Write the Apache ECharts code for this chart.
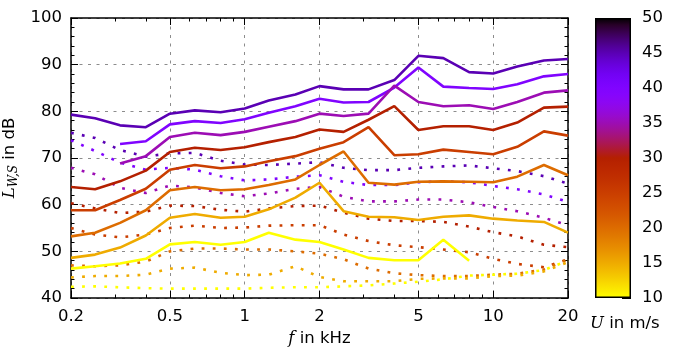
<!DOCTYPE html>
<html>
<head>
  <meta charset="UTF-8" />
  <title>L_W,S vs f</title>
  <script src="https://cdn.jsdelivr.net/npm/echarts@6/dist/echarts.min.js"></script>
  <style>
    html, body { margin: 0; background: #fff; }
    #chart { width: 681px; height: 352px; }
  </style>
</head>
<body>
  <div id="chart"></div>
  <script>
    // third-octave band centres in kHz
    const freqs = [0.2, 0.25, 0.315, 0.4, 0.5, 0.63, 0.8, 1, 1.25, 1.6, 2, 2.5, 3.15, 4, 5, 6.3, 8, 10, 12.5, 16, 20];
    const speeds = [45, 40, 35, 30, 25, 20, 15, 10];

    // solid lines, L_W,S in dB (null = no value)
    const solid45 = [79.3, 78.5, 77.0, 76.6, 79.5, 80.2, 79.8, 80.6, 82.3, 83.6, 85.4, 84.7, 84.7, 86.7, 91.9, 91.4, 88.4, 88.1, 89.6, 90.9, 91.2];
    const solid40 = [null, null, 73.0, 73.6, 77.2, 77.9, 77.5, 78.3, 79.7, 81.1, 82.7, 81.9, 82.0, 85.1, 89.4, 85.3, 85.0, 84.8, 85.8, 87.5, 88.0];
    const solid35 = [null, null, 68.8, 70.4, 74.5, 75.4, 74.9, 75.6, 76.7, 77.9, 79.5, 79.0, 79.5, 85.5, 82.0, 81.1, 81.3, 80.5, 82.0, 84.0, 84.5];
    const solid30 = [63.8, 63.3, 65.0, 67.3, 71.3, 72.2, 71.7, 72.3, 73.4, 74.5, 76.1, 75.6, 78.2, 81.1, 76.0, 76.8, 76.8, 76.0, 77.6, 80.8, 81.0];
    const solid25 = [58.8, 58.8, 61.0, 63.4, 67.5, 68.5, 67.8, 68.2, 69.3, 70.4, 72.0, 73.4, 76.6, 70.6, 70.8, 71.8, 71.3, 70.8, 72.4, 75.7, 74.8];
    const solid20 = [53.2, 54.0, 56.1, 58.8, 63.1, 63.8, 63.1, 63.3, 64.2, 65.4, 68.5, 71.4, 64.7, 64.3, 64.9, 65.0, 64.9, 64.8, 66.0, 68.5, 66.3];
    const solid15 = [48.6, 49.3, 50.8, 53.4, 57.2, 58.0, 57.2, 57.4, 59.0, 61.5, 64.7, 58.6, 57.4, 57.3, 56.7, 57.4, 57.7, 57.0, 56.6, 56.3, 54.0];
    const solid10 = [46.3, 46.8, 47.4, 48.4, 51.5, 52.0, 51.4, 52.0, 54.0, 52.5, 52.0, 50.4, 48.6, 48.1, 48.1, 52.5, 48.0, null, null, null, null];

    // dotted lines
    const dotted45 = [75.4, 74.3, 71.7, 70.3, 71.0, 71.1, 69.4, 68.6, 68.5, 68.8, 69.1, 67.9, 67.4, 67.4, 67.9, 68.2, 68.4, 67.8, 67.2, 66.1, 64.5];
    const dotted40 = [73.8, 71.5, 69.0, 67.5, 67.9, 67.5, 66.1, 65.2, 65.4, 66.0, 66.3, 64.9, 64.2, 64.2, 64.8, 65.0, 64.8, 64.0, 63.3, 62.2, 60.6];
    const dotted35 = [67.9, 66.5, 63.6, 62.5, 64.1, 63.7, 62.5, 61.8, 62.4, 63.4, 63.8, 61.7, 60.7, 60.7, 61.1, 61.1, 60.5, 59.5, 58.6, 57.2, 55.6];
    const dotted30 = [60.3, 59.2, 58.2, 58.5, 59.8, 59.7, 58.9, 58.5, 59.2, 59.7, 59.8, 58.3, 57.0, 56.5, 56.5, 56.3, 55.3, 54.1, 53.2, 51.4, 50.9];
    const dotted25 = [55.0, 53.6, 53.0, 53.6, 55.0, 55.5, 55.0, 55.1, 55.5, 55.6, 55.6, 53.6, 52.2, 51.3, 50.9, 50.4, 49.8, 48.4, 47.3, 46.6, 48.3];
    const dotted20 = [47.0, 46.8, 47.0, 47.8, 50.0, 50.6, 50.6, 50.4, 50.4, 50.0, 49.5, 48.3, 46.3, 45.3, 44.9, 44.7, 44.7, 45.0, 45.2, 46.1, 48.3];
    const dotted15 = [44.4, 44.7, 44.7, 45.0, 46.3, 46.5, 45.4, 44.9, 45.0, 46.8, 44.5, 43.6, 43.6, 43.6, 44.1, 44.2, 44.2, 44.7, 44.8, 45.7, 47.7];
    const dotted10 = [42.4, 42.5, 42.3, 42.1, 42.0, 42.0, 42.0, 42.0, 42.2, 42.3, 42.3, 42.5, 42.7, 43.1, 43.5, 44.0, 44.8, 45.0, 45.2, 46.0, 48.0];

    const solidLines = [solid45, solid40, solid35, solid30, solid25, solid20, solid15, solid10];
    const dottedLines = [dotted45, dotted40, dotted35, dotted30, dotted25, dotted20, dotted15, dotted10];

    const majorFreqTicks = [0.2, 0.5, 1, 2, 5, 10, 20];
    const minorFreqTicks = [0.3, 0.4, 0.6, 0.7, 0.8, 0.9, 3, 4, 6, 7, 8, 9];

    // matplotlib gnuplot colormap, reversed over U = 10..50
    function gnuplot(x) {
      const r = Math.sqrt(x), g = x * x * x, b = Math.max(0, Math.sin(2 * Math.PI * x));
      return 'rgb(' + Math.round(r * 255) + ',' + Math.round(g * 255) + ',' + Math.round(b * 255) + ')';
    }
    const speedColor = u => gnuplot((50 - u) / 40);

    const chart = echarts.init(document.getElementById('chart'), null, { renderer: 'canvas' });

    const FONT = 'DejaVu Sans';
    const FS = 16.5;
    const black = '#000';
    const gridLine = { show: true, lineStyle: { color: '#8c8c8c', width: 1, type: [3, 5.5] } };

    const series = [];
    speeds.forEach((u, i) => {
      series.push({
        type: 'line', name: 'dot' + u, symbol: 'none', silent: true,
        data: freqs.map((f, k) => [f, dottedLines[i][k] == null ? '-' : dottedLines[i][k]]),
        lineStyle: { color: speedColor(u), width: 2.6, type: [2.8, 8.3], cap: 'butt' },
        z: 3
      });
    });
    speeds.forEach((u, i) => {
      series.push({
        type: 'line', name: 'U' + u, symbol: 'none', silent: true,
        data: freqs.map((f, k) => [f, solidLines[i][k] == null ? '-' : solidLines[i][k]]),
        lineStyle: { color: speedColor(u), width: 2.6 },
        z: 4
      });
    });

    // colour bar: transparent base up to 10, gradient from 10 to 50
    const stops = [];
    for (let k = 0; k <= 40; k++) stops.push({ offset: k / 40, color: gnuplot(k / 40) });
    series.push({
      type: 'bar', xAxisIndex: 4, yAxisIndex: 2, stack: 'cbar', silent: true,
      data: [10], barWidth: '100%', itemStyle: { color: 'rgba(0,0,0,0)' }
    });
    series.push({
      type: 'bar', xAxisIndex: 4, yAxisIndex: 2, stack: 'cbar', silent: true,
      data: [40], barWidth: '100%',
      itemStyle: { color: new echarts.graphic.LinearGradient(0, 0, 0, 1, stops), borderColor: black, borderWidth: 1.5 }
    });

    const freqAxis = { type: 'log', logBase: 10, min: 0.2, max: 20, gridIndex: 0 };
    const mathRich = {
      i: { fontFamily: 'DejaVu Serif', fontStyle: 'italic', fontSize: FS, lineHeight: 20, color: black },
      s: { fontFamily: 'DejaVu Serif', fontStyle: 'italic', fontSize: 12, verticalAlign: 'bottom', color: black },
      t: { fontFamily: FONT, fontSize: FS, lineHeight: 20, color: black }
    };

    chart.setOption({
      animation: false,
      backgroundColor: '#fff',
      textStyle: { fontFamily: FONT },
      grid: [
        { left: 71, top: 18, width: 497, height: 280, outerBoundsMode: 'none' },
        { left: 595, top: 18, width: 36, height: 280, outerBoundsMode: 'none' }
      ],
      xAxis: [
        Object.assign({}, freqAxis, {
          position: 'bottom',
          name: '{i|f}{t| in kHz}', nameLocation: 'middle', nameGap: 31,
          nameTextStyle: { rich: mathRich },
          axisLine: { show: true, onZero: false, lineStyle: { color: black, width: 1.5 } },
          axisTick: { show: true, inside: true, length: 7, customValues: majorFreqTicks, lineStyle: { color: black, width: 1 } },
          axisLabel: { customValues: majorFreqTicks, color: black, fontSize: FS, margin: 10, formatter: v => String(+(+v).toPrecision(3)) },
          splitLine: gridLine
        }),
        Object.assign({}, freqAxis, {
          position: 'bottom',
          axisLine: { show: false },
          axisTick: { show: true, inside: true, length: 3.5, customValues: minorFreqTicks, lineStyle: { color: black, width: 1 } },
          axisLabel: { show: false }, splitLine: { show: false }
        }),
        Object.assign({}, freqAxis, {
          position: 'top',
          axisLine: { show: true, onZero: false, lineStyle: { color: black, width: 1.5 } },
          axisTick: { show: true, inside: true, length: 7, customValues: majorFreqTicks, lineStyle: { color: black, width: 1 } },
          axisLabel: { show: false }, splitLine: { show: false }
        }),
        Object.assign({}, freqAxis, {
          position: 'top',
          axisLine: { show: false },
          axisTick: { show: true, inside: true, length: 3.5, customValues: minorFreqTicks, lineStyle: { color: black, width: 1 } },
          axisLabel: { show: false }, splitLine: { show: false }
        }),
        { type: 'category', gridIndex: 1, data: [''], show: false, boundaryGap: true }
      ],
      yAxis: [
        {
          type: 'value', gridIndex: 0, min: 40, max: 100, interval: 10, position: 'left',
          name: '{i|L}{s|W,S}{t| in dB}', nameLocation: 'middle', nameGap: 35, nameRotate: 90,
          nameTextStyle: { rich: mathRich },
          axisLine: { show: true, lineStyle: { color: black, width: 1.5 } },
          axisTick: { show: true, inside: true, length: 7, lineStyle: { color: black } },
          minorTick: { show: true, splitNumber: 5, length: 3.5, lineStyle: { color: black } },
          axisLabel: { color: black, fontSize: FS, margin: 9 },
          splitLine: gridLine
        },
        {
          type: 'value', gridIndex: 0, min: 40, max: 100, interval: 10, position: 'right',
          axisLine: { show: true, lineStyle: { color: black, width: 1.5 } },
          axisTick: { show: true, inside: true, length: 7, lineStyle: { color: black } },
          minorTick: { show: true, splitNumber: 5, length: 3.5, lineStyle: { color: black } },
          axisLabel: { show: false }, splitLine: { show: false }
        },
        {
          type: 'value', gridIndex: 1, min: 10, max: 50, interval: 5, position: 'right',
          axisLine: { show: false },
          axisTick: { show: true, inside: true, length: 9, lineStyle: { color: black } },
          axisLabel: { color: black, fontSize: FS, margin: 11 },
          splitLine: { show: false }
        }
      ],
      graphic: [{
        type: 'text', left: 590, top: 315, silent: true,
        style: { text: '{i|U}{t| in m/s}', rich: mathRich }
      }],
      series: series
    });
  </script>
</body>
</html>
